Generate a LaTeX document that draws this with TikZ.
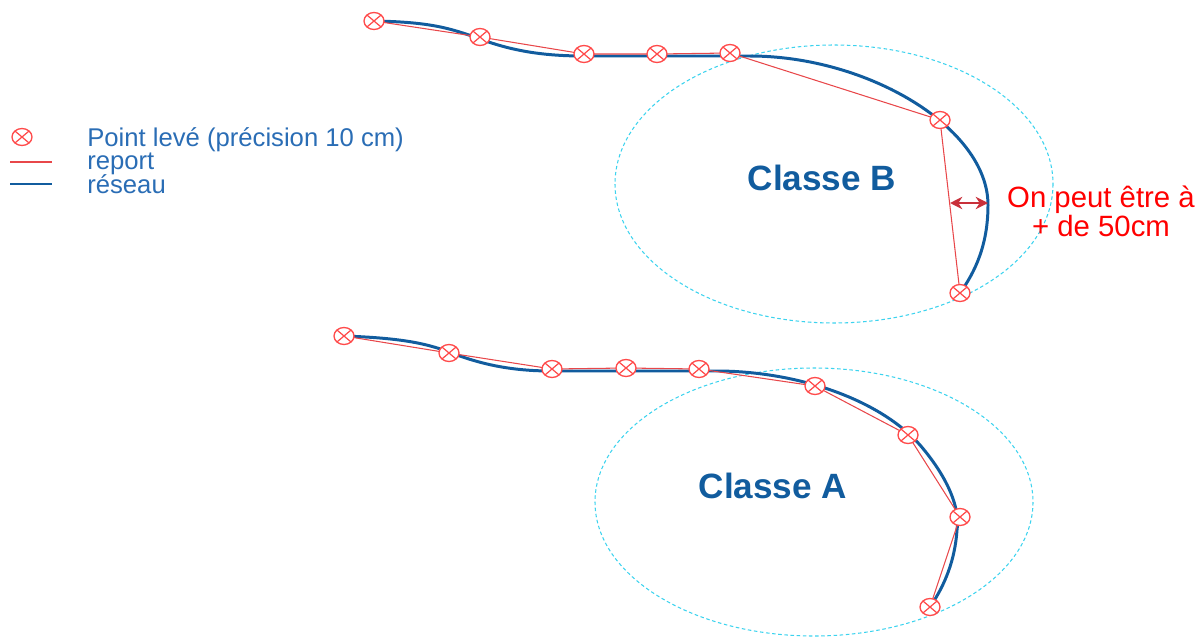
\documentclass[tikz,border=0pt]{standalone}
\usepackage{fontspec}
\setmainfont{Liberation Sans}
\usetikzlibrary{shapes.geometric,arrows.meta}
\definecolor{netblue}{HTML}{115C9E}
\definecolor{legblue}{HTML}{2A6DB5}
\definecolor{reportred}{HTML}{E8474A}
\definecolor{markred}{HTML}{FF4A4A}
\definecolor{zonecyan}{HTML}{3CD3EE}
\definecolor{arrowred}{HTML}{C9303A}
\tikzset{
  reseau/.style={draw=netblue,line width=1.7pt,line cap=round},
  report/.style={draw=reportred,line width=0.6pt},
  zone/.style={draw=zonecyan,line width=0.6pt,dash pattern=on 2pt off 1.5pt},
  leve/.style={ellipse,draw=markred,fill=white,line width=0.75pt,
    minimum width=0.4cm,minimum height=0.34cm,inner sep=0pt,
    path picture={\draw[markred,line width=0.7pt]
      (path picture bounding box.north west) -- (path picture bounding box.south east)
      (path picture bounding box.north east) -- (path picture bounding box.south west);}},
  legtxt/.style={text=legblue,font=\fontsize{14.6}{17}\selectfont,anchor=west,
    inner sep=0pt,text height=0.68em,text depth=0.18em},
  classe/.style={text=netblue,font=\bfseries\fontsize{20}{24}\selectfont},
  note/.style={text=red,font=\fontsize{16.7}{16.4}\selectfont,align=center}
}
\begin{document}
\begin{tikzpicture}[x=0.02cm,y=-0.02cm]
\useasboundingbox (0,0) rectangle (1197,636);

% zones of tolerance
\draw[zone] (834,184) ellipse [x radius=219, y radius=139];
\draw[zone] (814,502) ellipse [x radius=219, y radius=134];

% surveyed points, class B
\coordinate (b1) at (374,21);
\coordinate (b2) at (480,37);
\coordinate (b3) at (584,54);
\coordinate (b4) at (657,54);
\coordinate (b5) at (730,53);
\coordinate (b6) at (940,120);
\coordinate (b7) at (960,293);
% surveyed points, class A
\coordinate (a1) at (344,336);
\coordinate (a2) at (449,353);
\coordinate (a3) at (552,369);
\coordinate (a4) at (626,368);
\coordinate (a5) at (699,369);
\coordinate (a6) at (815,386);
\coordinate (a7) at (908,435);
\coordinate (a8) at (960,517);
\coordinate (a9) at (930,607);

% network, class B
\draw[reseau] (b1) .. controls (430,22) and (450,28) .. (480,39)
  .. controls (510,50) and (540,56) .. (584,56) -- (750,56)
  .. controls (868,56) and (988,128) .. (988,205)
  .. controls (988,245) and (975,272) .. (b7);
% network, class A
\draw[reseau] (a1) .. controls (400,338) and (425,343) .. (449,352)
  .. controls (480,364) and (510,371) .. (552,371) -- (720,371)
  .. controls (800,372) and (880,400) .. (920,445)
  .. controls (950,480) and (960,510) .. (957,530)
  .. controls (955,560) and (945,585) .. (a9);

% plotted survey
\draw[report] (b1) -- (b2) -- (b3) -- (b4) -- (b5) -- (b6) -- (b7);
\draw[report] (a1) -- (a2) -- (a3) -- (a4) -- (a5) -- (a6) -- (a7) -- (a8) -- (a9);

% markers
\foreach \p in {b1,b2,b3,b4,b5,b6,b7,a1,a2,a3,a4,a5,a6,a7,a8,a9}
  \node[leve] (m-\p) at (\p) {};

% gap between plotted line and network
\coordinate (g1) at (950,203);
\coordinate (g2) at (988,203);
\draw[arrowred,line width=1.4pt,{Stealth[length=7pt,width=7pt]}-{Stealth[length=7pt,width=7pt]}] (g1) -- (g2);
\node[note] (gap) at (1101,211) {On peut être à\\+ de 50cm};

% class labels
\node[classe] (cb) at (822,178) {Classe B};
\node[classe] (ca) at (773,486) {Classe A};

% legend
\node[leve] (leg-pt) at (22,137) {};
\coordinate (lr1) at (10,162);
\coordinate (lr2) at (52,162);
\coordinate (lb1) at (10,184);
\coordinate (lb2) at (52,184);
\draw[report] (lr1) -- (lr2);
\draw[reseau,line cap=butt] (lb1) -- (lb2);
\node[legtxt] (leg1) at (87,142) {Point levé (précision 10 cm)};
\node[legtxt] (leg2) at (87,165) {report};
\node[legtxt] (leg3) at (87,189) {réseau};
\end{tikzpicture}
\end{document}
